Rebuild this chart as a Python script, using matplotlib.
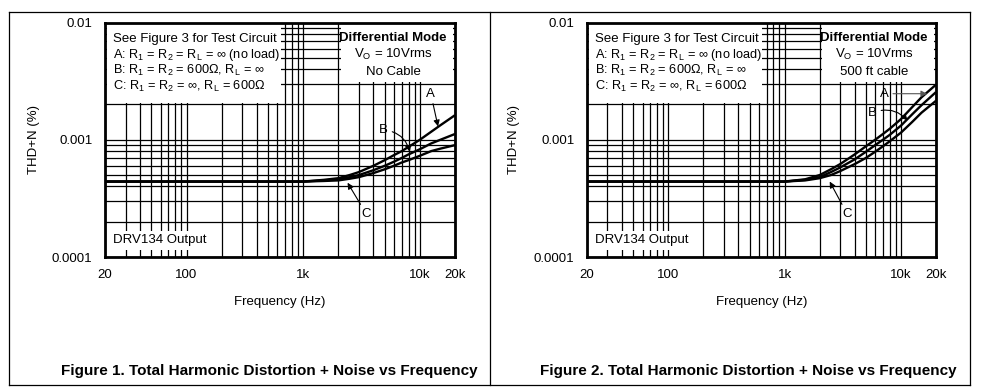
import matplotlib
matplotlib.use("Agg")
import matplotlib.pyplot as plt
from matplotlib.lines import Line2D
from matplotlib.patches import Rectangle
from matplotlib.ticker import LogLocator, FixedLocator, FixedFormatter, NullFormatter

plt.rcParams['font.family'] = ['Liberation Sans', 'DejaVu Sans']
plt.rcParams['mathtext.fontset'] = 'custom'
plt.rcParams['mathtext.rm'] = 'Liberation Sans'
plt.rcParams['mathtext.it'] = 'Liberation Sans'

# frequency points (Hz)
freq = [20, 500, 1000, 1500, 2000, 2500, 3000, 4000, 5000, 6000, 7000, 8000, 10000, 12500, 15000, 20000]

# Figure 1 - no cable
nc_A = [0.00044, 0.00044, 0.00044, 0.000455, 0.00047, 0.0005, 0.00053, 0.0006, 0.00067, 0.00074, 0.0008, 0.00087, 0.001, 0.00117, 0.00133, 0.00162]
nc_B = [0.00044, 0.00044, 0.00044, 0.00045, 0.00046, 0.00048, 0.0005, 0.00055, 0.0006, 0.00065, 0.0007, 0.00075, 0.00083, 0.00093, 0.001, 0.00112]
nc_C = [0.00044, 0.00044, 0.00044, 0.000445, 0.00045, 0.000465, 0.00048, 0.00052, 0.00056, 0.0006, 0.00064, 0.00067, 0.00073, 0.0008, 0.00084, 0.0009]

# Figure 2 - 500 ft cable
cb_A = [0.00044, 0.00044, 0.00044, 0.00046, 0.0005, 0.00056, 0.00062, 0.00075, 0.00088, 0.001, 0.00112, 0.00124, 0.0015, 0.0019, 0.0023, 0.00295]
cb_B = [0.00044, 0.00044, 0.00044, 0.000455, 0.00048, 0.00053, 0.00058, 0.00068, 0.00079, 0.0009, 0.001, 0.0011, 0.00132, 0.00165, 0.00197, 0.00255]
cb_C = [0.00044, 0.00044, 0.00044, 0.00045, 0.00047, 0.0005, 0.00054, 0.00062, 0.0007, 0.00079, 0.00088, 0.00097, 0.00115, 0.00142, 0.0017, 0.00215]

xticks = [20, 100, 1000, 10000, 20000]
xticklabels = ["20", "100", "1k", "10k", "20k"]
yticks = [0.0001, 0.001, 0.01]
yticklabels = ["0.0001", "0.001", "0.01"]

box_lines = ["See Figure 3 for Test Circuit",
             "A: R$_1$ = R$_2$ = R$_L$ = ∞ (no load)",
             "B: R$_1$ = R$_2$ = 600Ω, R$_L$ = ∞",
             "C: R$_1$ = R$_2$ = ∞, R$_L$ = 600Ω"]

W, H = 981, 388
fig = plt.figure(figsize=(W / 100, H / 100), dpi=100)
fs = 9.5


def px_axes(x0, x1, ytop, ybot):
    return fig.add_axes([x0 / W, 1 - ybot / H, (x1 - x0) / W, (ybot - ytop) / H])


def setup(ax):
    ax.set_xscale('log')
    ax.set_yscale('log')
    ax.set_xlim(20, 20000)
    ax.set_ylim(0.0001, 0.01)
    ax.xaxis.set_major_locator(FixedLocator(xticks))
    ax.xaxis.set_major_formatter(FixedFormatter(xticklabels))
    ax.xaxis.set_minor_locator(LogLocator(base=10, subs=range(2, 10), numticks=20))
    ax.xaxis.set_minor_formatter(NullFormatter())
    ax.yaxis.set_major_locator(FixedLocator(yticks))
    ax.yaxis.set_major_formatter(FixedFormatter(yticklabels))
    ax.yaxis.set_minor_locator(LogLocator(base=10, subs=range(2, 10), numticks=20))
    ax.yaxis.set_minor_formatter(NullFormatter())
    ax.tick_params(which='both', length=0, labelsize=fs, pad=9)
    ax.grid(True, which='both', color='black', lw=0.9)
    for s in ax.spines.values():
        s.set_linewidth(2.0)
        s.set_zorder(5)
    ax.set_xlabel("Frequency (Hz)", fontsize=fs)
    ax.set_ylabel("THD+N (%)", fontsize=fs)
    ax.xaxis.set_label_coords(0.5, -0.165)


def panel(ax, A, B, C, cable_text, ylab_x):
    setup(ax)
    ax.yaxis.set_label_coords(ylab_x, 0.5)
    # white boxes over the grid behind the notes
    ax.add_patch(Rectangle((20.9, 0.00207), 645 - 20.9, 0.00962 - 0.00207, facecolor='white',
                           edgecolor='none', zorder=2))
    ax.add_patch(Rectangle((2100, 0.00312), 19300 - 2100, 0.00962 - 0.00312, facecolor='white',
                           edgecolor='none', zorder=2))
    for f_vals in (A, B, C):
        ax.plot(freq, f_vals, color='black', lw=1.7, zorder=3, solid_capstyle='butt')
    for i, t in enumerate(box_lines):
        ax.text(0.024, 0.931 - i * 0.068, t, transform=ax.transAxes, fontsize=fs if i == 0 else 9.15,
                ha='left', va='center', zorder=4)
    ax.text(0.823, 0.933, "Differential Mode", transform=ax.transAxes, fontsize=fs,
            fontweight='bold', ha='center', va='center', zorder=4)
    ax.text(0.823, 0.862, r"V$_\mathrm{O}$ = 10Vrms", transform=ax.transAxes, fontsize=fs,
            ha='center', va='center', zorder=4)
    ax.text(0.823, 0.790, cable_text, transform=ax.transAxes, fontsize=fs,
            ha='center', va='center', zorder=4)
    ax.text(0.024, 0.072, "DRV134 Output", transform=ax.transAxes, fontsize=fs,
            ha='left', va='center', zorder=4,
            bbox=dict(facecolor='white', edgecolor='none', pad=2.5))


ax1 = px_axes(105, 455, 22.5, 257)
panel(ax1, nc_A, nc_B, nc_C, "No Cable", -0.186)
ax2 = px_axes(587, 936, 22.5, 257)
panel(ax2, cb_A, cb_B, cb_C, "500 ft cable", -0.192)

arr = dict(arrowstyle='-|>', color='black', lw=0.8, mutation_scale=9, shrinkA=1, shrinkB=0)

# curve labels, figure 1
ax1.annotate("A", xy=(14300, 0.0013), xytext=(12400, 0.00248), fontsize=fs, ha='center', va='center',
             arrowprops=arr, zorder=4)
ax1.annotate("B", xy=(8200, 0.00079), xytext=(4900, 0.00121), fontsize=fs, ha='center', va='center',
             arrowprops=dict(arr, connectionstyle='arc3,rad=-0.35'), zorder=4)
ax1.annotate("C", xy=(2400, 0.00043), xytext=(3490, 0.000231), fontsize=fs, ha='center', va='center',
             arrowprops=arr, zorder=4)

# curve labels, figure 2
ax2.annotate("A", xy=(16800, 0.00247), xytext=(7200, 0.00247), fontsize=fs, ha='center', va='center',
             arrowprops=dict(arr, color='#555555'), zorder=4)
ax2.annotate("B", xy=(11400, 0.00146), xytext=(5700, 0.00169), fontsize=fs, ha='center', va='center',
             arrowprops=dict(arr, connectionstyle='arc3,rad=-0.35'), zorder=4)
ax2.annotate("C", xy=(2440, 0.00044), xytext=(3460, 0.000231), fontsize=fs, ha='center', va='center',
             arrowprops=arr, zorder=4)

# captions
fig.text(478 / W, 1 - 371 / H, "Figure 1. Total Harmonic Distortion + Noise vs Frequency",
         fontsize=11, fontweight='bold', ha='right', va='center')
fig.text(957 / W, 1 - 371 / H, "Figure 2. Total Harmonic Distortion + Noise vs Frequency",
         fontsize=11, fontweight='bold', ha='right', va='center')

# table frame
def fline(x0, y0, x1, y1):
    fig.add_artist(Line2D([x0 / W, x1 / W], [1 - y0 / H, 1 - y1 / H], color='black', lw=0.9))

fline(9, 12, 970, 12)
fline(9, 385, 970, 385)
fline(9, 12, 9, 385)
fline(970, 12, 970, 385)
fline(490, 12, 490, 385)

fig.savefig("out.png", dpi=100)
